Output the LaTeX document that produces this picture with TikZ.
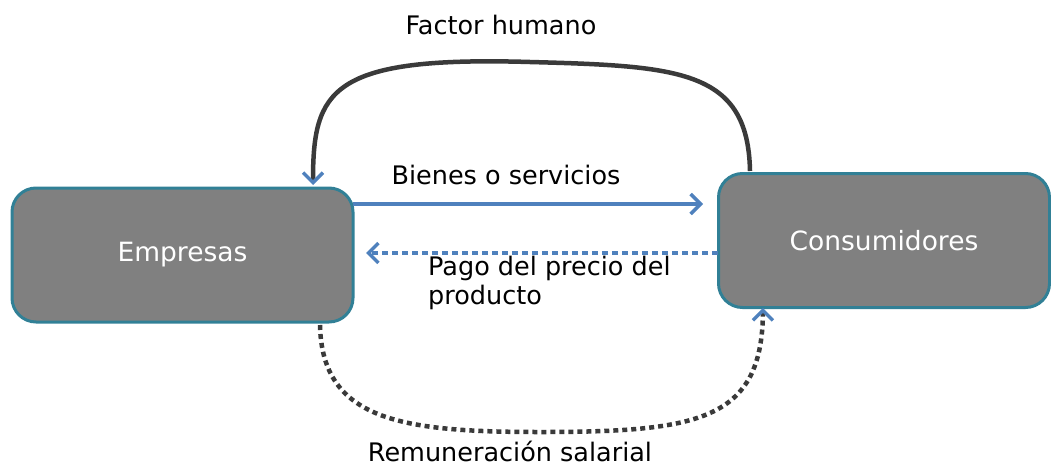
\documentclass[tikz,border=0pt]{standalone}
\usepackage{fontspec}
\setmainfont{DejaVu Sans}
\usetikzlibrary{arrows.meta}
\definecolor{boxfill}{RGB}{128,128,128}
\definecolor{boxedge}{RGB}{49,128,150}
\definecolor{flowblue}{RGB}{79,129,189}
\definecolor{flowdark}{RGB}{58,58,58}
\tikzset{
  box/.style={draw=boxedge, line width=3pt, fill=boxfill, rounded corners=24pt, inner sep=0pt},
  boxtext/.style={text=white, font=\fontsize{26.5}{30}\selectfont},
  lbl/.style={text=black, font=\fontsize{25.5}{29}\selectfont, inner sep=0pt},
  tipv/.style={-{Straight Barb[length=10pt,width=20pt,line width=3.4pt,color=flowblue]}},
  blueflow/.style={draw=flowblue, line width=3.4pt},
  darkflow/.style={draw=flowdark, line width=4.5pt},
}
\begin{document}
\begin{tikzpicture}[x=1pt,y=-1pt]
\useasboundingbox (0,0) rectangle (1051,466);
% boxes
\node[box, minimum width=341pt, minimum height=134pt] (emp) at (182.5,255) {};
\node[boxtext] (empt) at (emp.center) {Empresas};
\node[box, minimum width=331pt, minimum height=134pt] (con) at (884,240.5) {};
\node[boxtext] (cont) at (con.center) {Consumidores};
% anchor points
\coordinate (bs) at (353,204);
\coordinate (be) at (703,204);
\coordinate (ps) at (718,253);
\coordinate (pe) at (366,253);
\coordinate (fs) at (750,171);
\coordinate (fe) at (313,185);
\coordinate (rs) at (320,325);
\coordinate (re) at (763,308);
% flows
\draw[blueflow, tipv] (bs) -- (be);
\draw[blueflow, dash pattern=on 6pt off 4pt, tipv] (ps) -- (pe);
\draw[darkflow, tipv] (fs) .. controls (748,70) and (680,66) .. (530,62)
  .. controls (330,56) and (313,90) .. (fe);
\draw[darkflow, dash pattern=on 5pt off 4pt, tipv] (rs) .. controls (322,420) and (400,432) .. (540,432)
  .. controls (700,432) and (762,420) .. (re);
% labels
\node[lbl] (lf) at (501,25) {Factor humano};
\node[lbl] (lb) at (506,175) {Bienes o servicios};
\node[lbl, anchor=north west, align=left] (lp) at (428,256) {Pago del precio del\\producto};
\node[lbl] (lr) at (510,451) {Remuneración salarial};
\end{tikzpicture}
\end{document}
